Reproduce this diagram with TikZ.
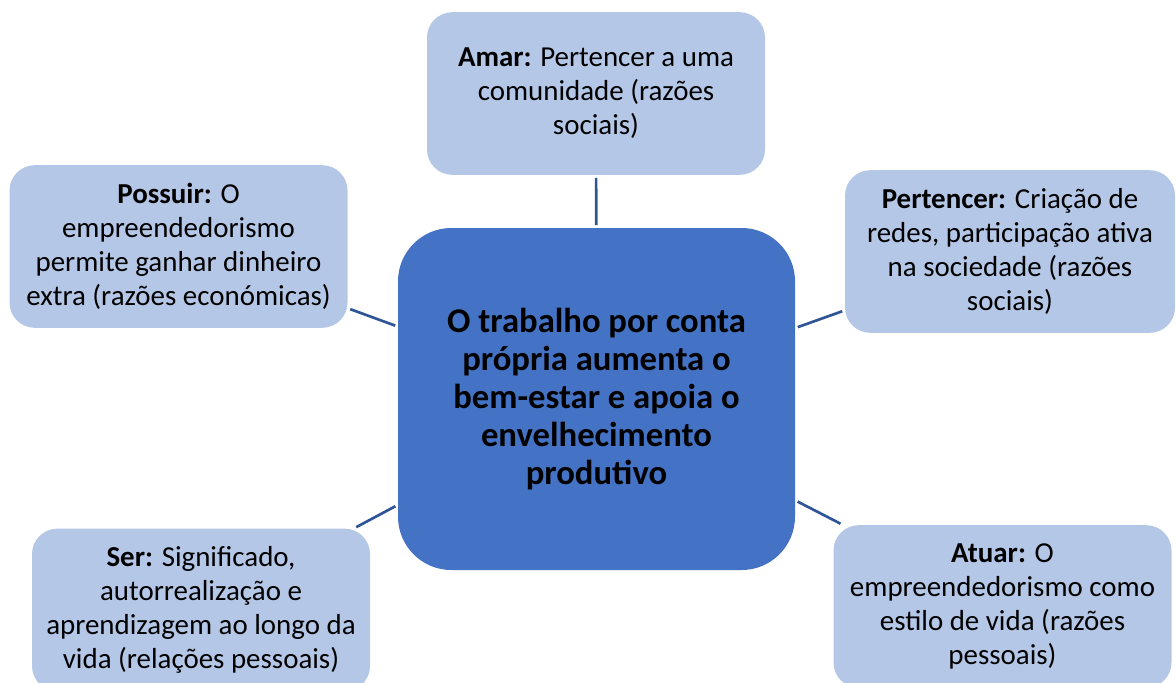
\documentclass[tikz,border=0pt]{standalone}
\usepackage{fontspec}
\setmainfont{Carlito}
\usepackage{tikz}
\usetikzlibrary{positioning}
\definecolor{hubcol}{RGB}{68,114,196}
\definecolor{leafcol}{RGB}{180,199,231}
\definecolor{linkcol}{RGB}{47,85,151}

\tikzset{
  leaf/.style={draw=none, fill=leafcol, rounded corners=19pt, align=center,
               minimum width=253.5pt, minimum height=122pt, inner sep=4pt,
               font=\fontsize{21.7}{25.5}\selectfont},
  hub/.style={draw=none, fill=hubcol, rounded corners=40pt, align=center,
              minimum width=297.75pt, minimum height=256.5pt,
              font=\fontsize{26}{28.6}\selectfont\bfseries},
  link/.style={draw=linkcol, line width=2pt, shorten <=2pt, shorten >=2pt}
}

\begin{document}
\begin{tikzpicture}[x=0.75pt, y=-0.75pt]
  \clip (0,0) rectangle (1176,682);

  %% ─── Centre ───────────────────────────────────────────────────────────────
  \node[hub] (hub) at (596.5, 399)
    {O trabalho por conta\\própria aumenta o\\bem-estar e apoia o\\envelhecimento\\produtivo};

  %% ─── Surrounding needs ────────────────────────────────────────────────────
  \node[leaf] (amar) at (596, 93.5)
    {\textbf{Amar:} Pertencer a uma\\comunidade (razões\\sociais)};
  \node[leaf] (possuir) at (178.5, 246.5)
    {\textbf{Possuir:} O\\empreendedorismo\\permite ganhar dinheiro\\extra (razões económicas)};
  \node[leaf, minimum width=247.5pt] (pertencer) at (1010, 251.5)
    {\textbf{Pertencer:} Criação de\\redes, participação ativa\\na sociedade (razões\\sociais)};
  \node[leaf] (ser) at (201, 610)
    {\textbf{Ser:} Significado,\\autorrealização e\\aprendizagem ao longo da\\vida (relações pessoais)};
  \node[leaf] (atuar) at (1002.5, 606.5)
    {\textbf{Atuar:} O\\empreendedorismo como\\estilo de vida (razões\\pessoais)};

  %% ─── Links ────────────────────────────────────────────────────────────────
  \foreach \n in {amar, possuir, pertencer, ser, atuar}
    \draw[link] (hub) -- (\n);
\end{tikzpicture}
\end{document}
